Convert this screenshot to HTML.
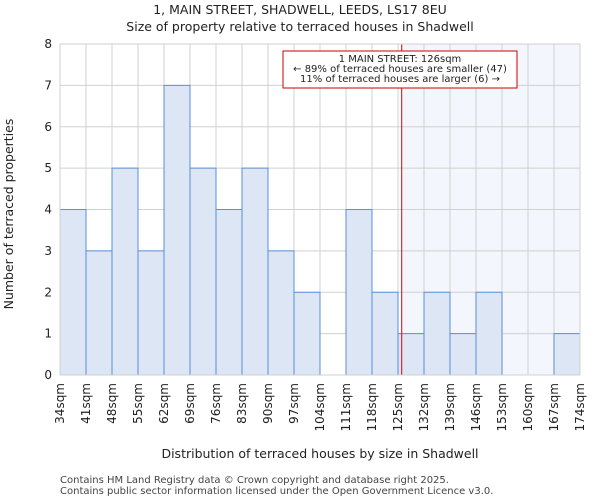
<!DOCTYPE html>
<html><head><meta charset="utf-8"><style>
body{margin:0;background:#fff;font-family:"DejaVu Sans","Liberation Sans",sans-serif}
svg text{font-family:"DejaVu Sans","Liberation Sans",sans-serif}
</style></head><body>
<svg id="c" width="600" height="500" xmlns="http://www.w3.org/2000/svg"></svg>
<script>
const categories=["34sqm","41sqm","48sqm","55sqm","62sqm","69sqm","76sqm","83sqm","90sqm","97sqm","104sqm","111sqm","118sqm","125sqm","132sqm","139sqm","146sqm","153sqm","160sqm","167sqm","174sqm"];
const binStarts=[34,41,48,55,62,69,76,83,90,97,104,111,118,125,132,139,146,153,160,167];
const counts=[4,3,5,3,7,5,4,5,3,2,0,4,2,1,2,1,2,0,0,1];
const yTicks=[0,1,2,3,4,5,6,7,8];
const propertySize=126;
const svg=document.getElementById('c');
const NS='http://www.w3.org/2000/svg';
const L=60,R=580,T=44,B=375,xMin=34,xMax=174,yMax=8;
const x=v=>L+(v-xMin)/(xMax-xMin)*(R-L);
const y=v=>B-v/yMax*(B-T);
function el(t,a,txt){const e=document.createElementNS(NS,t);for(const k in a)e.setAttribute(k,a[k]);if(txt!=null)e.textContent=txt;svg.appendChild(e);return e;}
let e=el('rect',{x:x(propertySize),y:T,width:R-x(propertySize),height:B-T,fill:'#f3f6fd'});


categories.forEach((c,i)=>{const v=xMin+i*7;const g=el('line',{x1:x(v),x2:x(v),y1:T,y2:B,stroke:'#d0d0d0','stroke-width':1});

});
yTicks.forEach(t=>{const g=el('line',{x1:L,x2:R,y1:y(t),y2:y(t),stroke:'#d0d0d0','stroke-width':1});


const tl=el('text',{x:L-8,y:y(t)+4,'text-anchor':'end','font-size':12,fill:'#222'},t);

});
counts.forEach((c,i)=>{if(!c)return;const b=el('rect',{x:x(binStarts[i]),y:y(c),width:x(binStarts[i]+7)-x(binStarts[i]),height:y(0)-y(c),fill:'#dce6f5',stroke:'#5b8fd6','stroke-width':1});

});
categories.forEach((c,i)=>{const v=xMin+i*7;const px=x(v);const t=el('text',{x:px+4,y:B+8,'text-anchor':'end','font-size':12,fill:'#222',transform:`rotate(-90 ${px+4} ${B+8})`},c);

});
e=el('line',{x1:x(propertySize),x2:x(propertySize),y1:T,y2:B,stroke:'#dd0000','stroke-width':1});


e=el('rect',{x:283,y:51,width:234,height:37,fill:'#fff',stroke:'#cc0000','stroke-width':1});


[["1 MAIN STREET: 126sqm",62],["← 89% of terraced houses are smaller (47)",72],["11% of terraced houses are larger (6) →",82]].forEach(([s,yy])=>{const t=el('text',{x:400,y:yy,'text-anchor':'middle','font-size':10,fill:'#222'},s);

});
e=el('rect',{x:L,y:T,width:R-L,height:B-T,fill:'none',stroke:'#d0d0d0'});


e=el('text',{x:300,y:14,'text-anchor':'middle','font-size':12.5,fill:'#222'},'1, MAIN STREET, SHADWELL, LEEDS, LS17 8EU');


e=el('text',{x:300,y:31,'text-anchor':'middle','font-size':12.5,fill:'#222'},'Size of property relative to terraced houses in Shadwell');


e=el('text',{x:320,y:458,'text-anchor':'middle','font-size':12.5,fill:'#222'},'Distribution of terraced houses by size in Shadwell');


e=el('text',{x:13,y:214,'text-anchor':'middle','font-size':12.5,fill:'#222',transform:'rotate(-90 13 214)'},'Number of terraced properties');


e=el('text',{x:60,y:483,'font-size':10,fill:'#444'},'Contains HM Land Registry data © Crown copyright and database right 2025.');


e=el('text',{x:60,y:494,'font-size':10,fill:'#444'},'Contains public sector information licensed under the Open Government Licence v3.0.');


</script>
</body></html>
